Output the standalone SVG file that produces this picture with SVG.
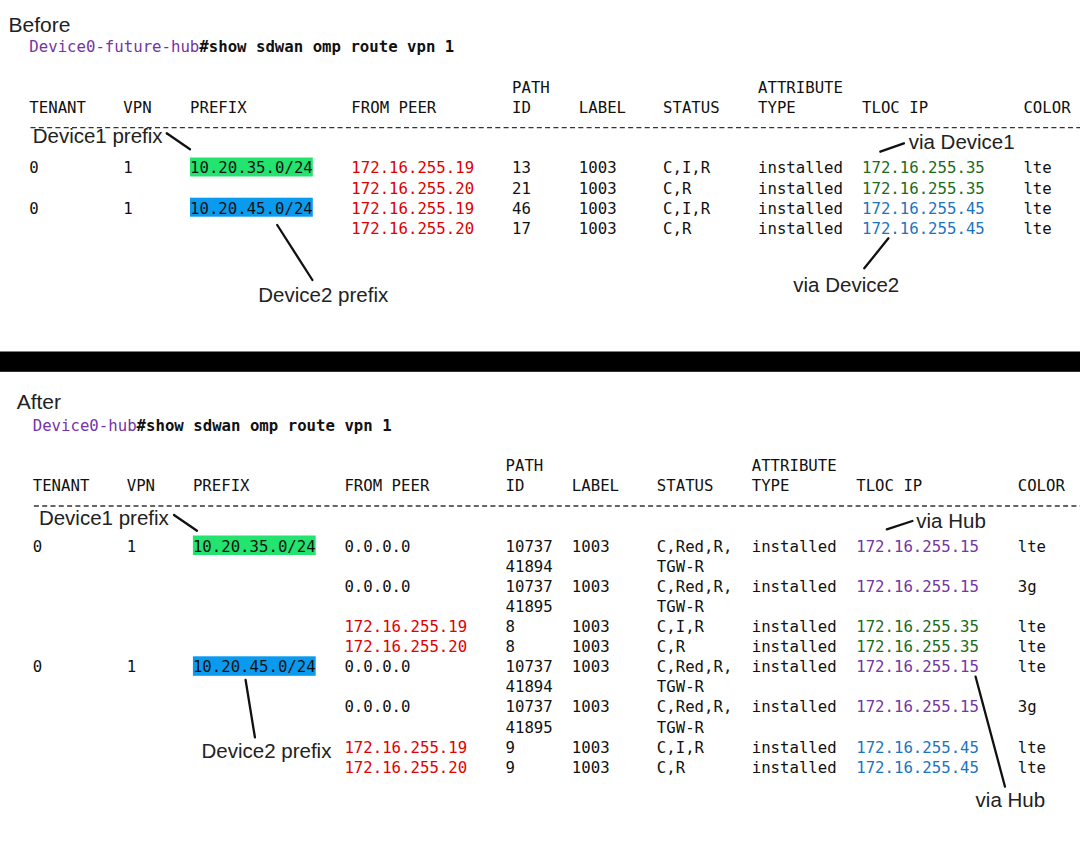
<svg xmlns="http://www.w3.org/2000/svg" width="1080" height="841" viewBox="0 0 1080 841">
<style>
.m{font-family:"DejaVu Sans Mono","Liberation Mono",monospace;font-size:15.7px;fill:#111}
.b{font-weight:bold}
.pu{fill:#7434a6}
.rd{fill:#e00000}
.gn{fill:#1b6b1b}
.bl{fill:#1b74bf}
.lb{font-family:"Liberation Sans",Arial,sans-serif;font-size:20.5px;fill:#222}
.ttl{font-family:"Liberation Sans",Arial,sans-serif;font-size:21px;fill:#222}
.dash{stroke:#333;stroke-width:1.3;stroke-dasharray:5 3.3}
.ld{stroke:#111;stroke-width:2.3;stroke-linecap:round}
</style>
<rect width="1080" height="841" fill="#fff"/>
<rect x="0" y="351.5" width="1080" height="20.3" fill="#000"/>

<g id="before">
<text class="ttl" x="8.6" y="31.7">Before</text>
<text class="m" x="29.3" y="52.4"><tspan class="pu">Device0-future-hub</tspan><tspan class="b">#show sdwan omp route vpn 1</tspan></text>
<g class="m">
<text x="512" y="93">PATH</text>
<text x="758" y="93">ATTRIBUTE</text>
<text x="29.3" y="112.7">TENANT</text>
<text x="123.3" y="112.7">VPN</text>
<text x="190" y="112.7">PREFIX</text>
<text x="351.3" y="112.7">FROM PEER</text>
<text x="512" y="112.7">ID</text>
<text x="578.8" y="112.7">LABEL</text>
<text x="663" y="112.7">STATUS</text>
<text x="758" y="112.7">TYPE</text>
<text x="862" y="112.7">TLOC IP</text>
<text x="1023.4" y="112.7">COLOR</text>
</g>
<line class="dash" x1="30.5" y1="127.7" x2="1080" y2="127.7"/>
<rect x="190" y="157.5" width="122.8" height="19" fill="#22e46f"/>
<rect x="190" y="197.7" width="122.8" height="19" fill="#0a9bef"/>
<g class="m">
<text x="29.3" y="173.3">0</text><text x="123.3" y="173.3">1</text><text x="190" y="173.3">10.20.35.0/24</text>
<text class="rd" x="351.3" y="173.3">172.16.255.19</text><text x="512" y="173.3">13</text><text x="578.8" y="173.3">1003</text>
<text x="663" y="173.3">C,I,R</text><text x="758" y="173.3">installed</text><text class="gn" x="862" y="173.3">172.16.255.35</text><text x="1023.4" y="173.3">lte</text>

<text class="rd" x="351.3" y="193.5">172.16.255.20</text><text x="512" y="193.5">21</text><text x="578.8" y="193.5">1003</text>
<text x="663" y="193.5">C,R</text><text x="758" y="193.5">installed</text><text class="gn" x="862" y="193.5">172.16.255.35</text><text x="1023.4" y="193.5">lte</text>

<text x="29.3" y="213.7">0</text><text x="123.3" y="213.7">1</text><text x="190" y="213.7">10.20.45.0/24</text>
<text class="rd" x="351.3" y="213.7">172.16.255.19</text><text x="512" y="213.7">46</text><text x="578.8" y="213.7">1003</text>
<text x="663" y="213.7">C,I,R</text><text x="758" y="213.7">installed</text><text class="bl" x="862" y="213.7">172.16.255.45</text><text x="1023.4" y="213.7">lte</text>

<text class="rd" x="351.3" y="233.9">172.16.255.20</text><text x="512" y="233.9">17</text><text x="578.8" y="233.9">1003</text>
<text x="663" y="233.9">C,R</text><text x="758" y="233.9">installed</text><text class="bl" x="862" y="233.9">172.16.255.45</text><text x="1023.4" y="233.9">lte</text>
</g>
</g>

<g id="after">
<text class="ttl" x="16.7" y="409.3">After</text>
<text class="m" x="32.7" y="430.7"><tspan class="pu">Device0-hub</tspan><tspan class="b">#show sdwan omp route vpn 1</tspan></text>
<g class="m">
<text x="505.5" y="471">PATH</text>
<text x="751.7" y="471">ATTRIBUTE</text>
<text x="32.7" y="490.5">TENANT</text>
<text x="126.7" y="490.5">VPN</text>
<text x="192.9" y="490.5">PREFIX</text>
<text x="344.4" y="490.5">FROM PEER</text>
<text x="505.5" y="490.5">ID</text>
<text x="571.8" y="490.5">LABEL</text>
<text x="656.8" y="490.5">STATUS</text>
<text x="751.7" y="490.5">TYPE</text>
<text x="856.2" y="490.5">TLOC IP</text>
<text x="1017.7" y="490.5">COLOR</text>
</g>
<line class="dash" x1="33.9" y1="506" x2="1080" y2="506"/>
<rect x="192.9" y="535.5" width="122.8" height="19.5" fill="#22e46f"/>
<rect x="192.9" y="656.3" width="122.8" height="19.5" fill="#0a9bef"/>
<g class="m">
<text x="32.7" y="551.6">0</text><text x="126.7" y="551.6">1</text><text x="192.9" y="551.6">10.20.35.0/24</text>
<text x="344.4" y="551.6">0.0.0.0</text><text x="505.5" y="551.6">10737</text><text x="571.8" y="551.6">1003</text>
<text x="656.8" y="551.6">C,Red,R,</text><text x="751.7" y="551.6">installed</text><text class="pu" x="856.2" y="551.6">172.16.255.15</text><text x="1017.7" y="551.6">lte</text>
<text x="505.5" y="571.7">41894</text><text x="656.8" y="571.7">TGW-R</text>

<text x="344.4" y="591.8">0.0.0.0</text><text x="505.5" y="591.8">10737</text><text x="571.8" y="591.8">1003</text>
<text x="656.8" y="591.8">C,Red,R,</text><text x="751.7" y="591.8">installed</text><text class="pu" x="856.2" y="591.8">172.16.255.15</text><text x="1017.7" y="591.8">3g</text>
<text x="505.5" y="611.9">41895</text><text x="656.8" y="611.9">TGW-R</text>

<text class="rd" x="344.4" y="632">172.16.255.19</text><text x="505.5" y="632">8</text><text x="571.8" y="632">1003</text>
<text x="656.8" y="632">C,I,R</text><text x="751.7" y="632">installed</text><text class="gn" x="856.2" y="632">172.16.255.35</text><text x="1017.7" y="632">lte</text>

<text class="rd" x="344.4" y="652.1">172.16.255.20</text><text x="505.5" y="652.1">8</text><text x="571.8" y="652.1">1003</text>
<text x="656.8" y="652.1">C,R</text><text x="751.7" y="652.1">installed</text><text class="gn" x="856.2" y="652.1">172.16.255.35</text><text x="1017.7" y="652.1">lte</text>

<text x="32.7" y="672.2">0</text><text x="126.7" y="672.2">1</text><text x="192.9" y="672.2">10.20.45.0/24</text>
<text x="344.4" y="672.2">0.0.0.0</text><text x="505.5" y="672.2">10737</text><text x="571.8" y="672.2">1003</text>
<text x="656.8" y="672.2">C,Red,R,</text><text x="751.7" y="672.2">installed</text><text class="pu" x="856.2" y="672.2">172.16.255.15</text><text x="1017.7" y="672.2">lte</text>
<text x="505.5" y="692.3">41894</text><text x="656.8" y="692.3">TGW-R</text>

<text x="344.4" y="712.4">0.0.0.0</text><text x="505.5" y="712.4">10737</text><text x="571.8" y="712.4">1003</text>
<text x="656.8" y="712.4">C,Red,R,</text><text x="751.7" y="712.4">installed</text><text class="pu" x="856.2" y="712.4">172.16.255.15</text><text x="1017.7" y="712.4">3g</text>
<text x="505.5" y="732.5">41895</text><text x="656.8" y="732.5">TGW-R</text>

<text class="rd" x="344.4" y="752.6">172.16.255.19</text><text x="505.5" y="752.6">9</text><text x="571.8" y="752.6">1003</text>
<text x="656.8" y="752.6">C,I,R</text><text x="751.7" y="752.6">installed</text><text class="bl" x="856.2" y="752.6">172.16.255.45</text><text x="1017.7" y="752.6">lte</text>

<text class="rd" x="344.4" y="772.7">172.16.255.20</text><text x="505.5" y="772.7">9</text><text x="571.8" y="772.7">1003</text>
<text x="656.8" y="772.7">C,R</text><text x="751.7" y="772.7">installed</text><text class="bl" x="856.2" y="772.7">172.16.255.45</text><text x="1017.7" y="772.7">lte</text>
</g>
</g>

<g id="labels">
<text id="lbl-d1-before" class="lb" x="32.7" y="143.3">Device1 prefix</text>
<text id="lbl-d2-before" class="lb" x="258.3" y="301.5">Device2 prefix</text>
<text id="lbl-via1" class="lb" x="908.7" y="148.5">via Device1</text>
<text id="lbl-via2" class="lb" x="793.3" y="291.7">via Device2</text>
<text id="lbl-d1-after" class="lb" x="38.9" y="524.5">Device1 prefix</text>
<text id="lbl-hub1" class="lb" x="916.3" y="528.3">via Hub</text>
<text id="lbl-d2-after" class="lb" x="201.5" y="758">Device2 prefix</text>
<text id="lbl-hub2" class="lb" x="975.6" y="806.7">via Hub</text>
</g>

<g id="connectors">
<line class="ld" x1="166.7" y1="133.3" x2="190" y2="149.3"/>
<line class="ld" x1="277.2" y1="225" x2="312.4" y2="280"/>
<line class="ld" x1="880.3" y1="151.7" x2="903.9" y2="143.3"/>
<line class="ld" x1="888.4" y1="238.3" x2="864.3" y2="268.3"/>
<line class="ld" x1="174" y1="515" x2="197" y2="530.7"/>
<line class="ld" x1="886.8" y1="529.3" x2="912.4" y2="521"/>
<line class="ld" x1="245.6" y1="680" x2="254.9" y2="737.3"/>
<line class="ld" x1="975.6" y1="676.7" x2="1005" y2="786.7"/>
</g>
</svg>
